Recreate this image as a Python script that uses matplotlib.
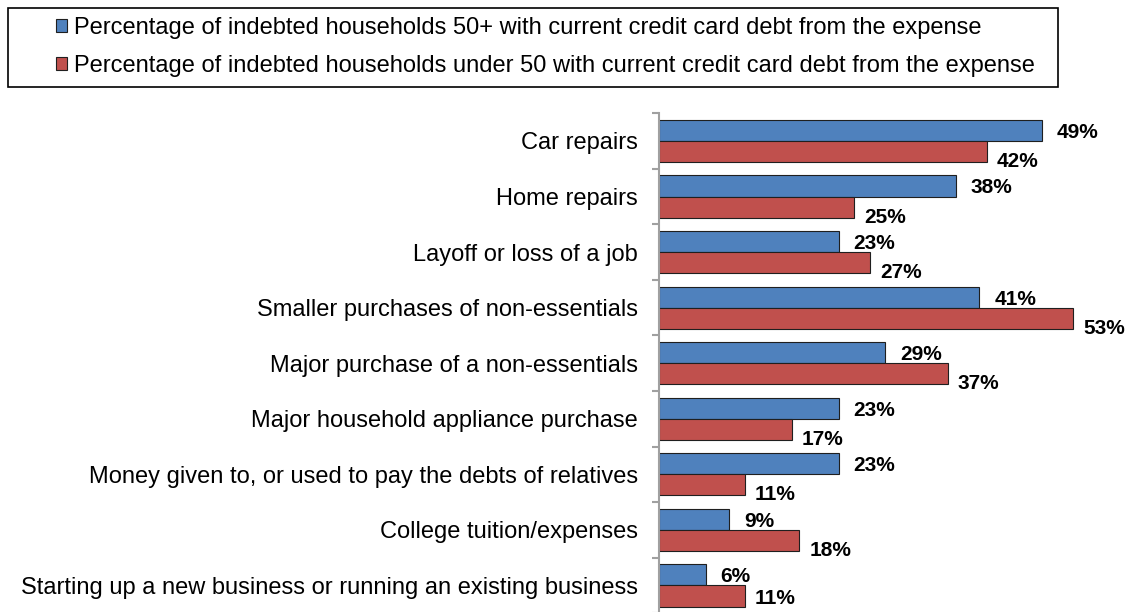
import numpy as np
import matplotlib.pyplot as plt
from matplotlib.patches import Rectangle

plt.rcParams['font.family'] = ['Liberation Sans', 'DejaVu Sans']

categories = ['Car repairs', 'Home repairs', 'Layoff or loss of a job',
              'Smaller purchases of non-essentials', 'Major purchase of a non-essentials',
              'Major household appliance purchase',
              'Money given to, or used to pay the debts of relatives',
              'College tuition/expenses',
              'Starting up a new business or running an existing business']
over50 = [49, 38, 23, 41, 29, 23, 23, 9, 6]
under50 = [42, 25, 27, 53, 37, 17, 11, 18, 11]
legend_labels = ['Percentage of indebted households 50+ with current credit card debt from the expense',
                 'Percentage of indebted households under 50 with current credit card debt from the expense']

fig = plt.figure(figsize=(11.3, 6.12), dpi=100)
ax = fig.add_axes([0.583, -0.002, 0.415, 0.817])

y = np.arange(len(categories))
h = 0.38
b1 = ax.barh(y - h / 2, over50, h, color='#4F81BD', edgecolor='#1f1f1f', linewidth=0.8,
             label=legend_labels[0])
b2 = ax.barh(y + h / 2, under50, h, color='#C0504D', edgecolor='#1f1f1f', linewidth=0.8,
             label=legend_labels[1])

# data labels
for yi, v in zip(y, over50):
    ax.annotate(f'{v}%', (v, yi - h / 2), xytext=(15, -2), textcoords='offset pixels',
                ha='left', va='center', fontsize=15, fontweight='bold')
for yi, v in zip(y, under50):
    dy = -2 if yi == y[-1] else -10   # last one sits higher so it stays inside
    ax.annotate(f'{v}%', (v, yi + h / 2), xytext=(10, dy), textcoords='offset pixels',
                ha='left', va='center', fontsize=15, fontweight='bold')

ax.set_xlim(0, 60)
ax.set_ylim(len(categories) - 0.5, -0.5)
ax.set_yticks(y)
ax.set_yticklabels(categories, fontsize=17)
ax.tick_params(axis='y', which='major', length=0, pad=15)
ax.set_yticks(np.arange(len(categories) + 1) - 0.5, minor=True)
ax.tick_params(axis='y', which='minor', length=5, color='#a0a0a0', width=1.5)
ax.set_xticks([])
for s in ['top', 'right', 'bottom']:
    ax.spines[s].set_visible(False)
ax.spines['left'].set_color('#a0a0a0')
ax.spines['left'].set_linewidth(1.5)

# legend box drawn separately (wide left padding)
fig.patches.append(Rectangle((8 / 1130, 1 - 87 / 612), 1050 / 1130, 79 / 612,
                             transform=fig.transFigure, fill=False,
                             edgecolor='black', linewidth=1.2))
fig.legend(handles=[b1, b2], loc='upper left', bbox_to_anchor=(56 / 1130, 1 - 17 / 612),
           fontsize=17, frameon=False,
           handlelength=0.45, handleheight=0.45, handletextpad=0.3,
           borderpad=0, labelspacing=0.66, borderaxespad=0)

fig.savefig('out.png', dpi=100)
